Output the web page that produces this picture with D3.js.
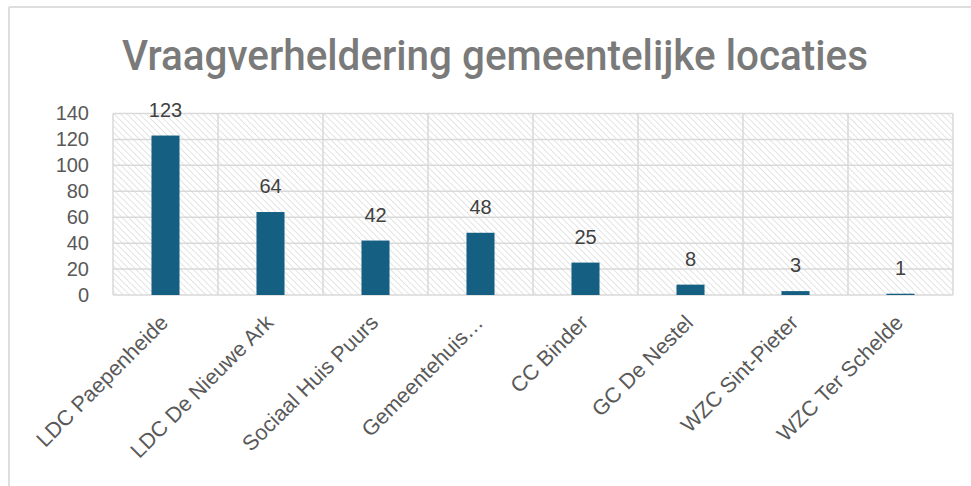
<!DOCTYPE html>
<html>
<head>
<meta charset="utf-8">
<script src="https://cdn.jsdelivr.net/npm/d3@7"></script>
<style>
  body { margin: 0; background: #fff; }
  text { font-family: "Liberation Sans", Arial, sans-serif; }
</style>
</head>
<body>
<svg id="chart" width="971" height="486"></svg>
<script>
// data
var categories = ["LDC Paepenheide", "LDC De Nieuwe Ark", "Sociaal Huis Puurs", "Gemeentehuis\u2026",
    "CC Binder", "GC De Nestel", "WZC Sint-Pieter", "WZC Ter Schelde"];
var values = [123, 64, 42, 48, 25, 8, 3, 1];
var yTicks = [0, 20, 40, 60, 80, 100, 120, 140];
var title = "Vraagverheldering gemeentelijke locaties";

var svg = d3.select("#chart"),
    width = +svg.attr("width"),
    height = +svg.attr("height");

var margin = {top: 113.5, right: 18, bottom: 191, left: 113},
    plotW = width - margin.left - margin.right,
    plotH = height - margin.top - margin.bottom;

var gridColor = "#d9d9d9";

// chart frame (only top and left edges visible)
svg.append("line").attr("x1", 9).attr("y1", 7).attr("x2", width).attr("y2", 7)
    .attr("stroke", "#dedede").attr("stroke-width", 2);
svg.append("line").attr("x1", 9).attr("y1", 7).attr("x2", 9).attr("y2", height)
    .attr("stroke", "#dedede").attr("stroke-width", 2);

// hatch fill
var defs = svg.append("defs");
defs.append("pattern")
    .attr("id", "hatch")
    .attr("patternUnits", "userSpaceOnUse")
    .attr("width", 4.5).attr("height", 4.5)
    .attr("patternTransform", "rotate(-45)")
    .append("line")
    .attr("x1", 0).attr("y1", 0).attr("x2", 0).attr("y2", 4.5)
    .attr("stroke", "#dfdfdf").attr("stroke-width", 1.7);

var titleText = svg.append("text")
    .attr("x", 495)
    .attr("y", 70)
    .attr("text-anchor", "middle")
    .attr("font-size", "43px")
    .attr("font-weight", 500)
    .style("font-family", "Roboto, 'Liberation Sans', sans-serif")
    .attr("fill", "#7a7a7a")
    .text(title);
// squeeze to the condensed width of the original
var tl = titleText.node().getComputedTextLength();
titleText.attr("transform", "translate(495,0) scale(" + (746 / tl) + ",1) translate(-495,0)");

var g = svg.append("g")
    .attr("transform", "translate(" + margin.left + "," + margin.top + ")");

var x = d3.scaleBand()
    .domain(categories)
    .range([0, plotW])
    .paddingInner(0.733)
    .paddingOuter(0.733 / 2);

var y = d3.scaleLinear()
    .domain([0, 140])
    .range([plotH, 0]);

g.append("rect")
    .attr("width", plotW).attr("height", plotH)
    .attr("fill", "url(#hatch)");

// horizontal gridlines
g.append("g")
    .selectAll("line")
    .data(yTicks)
    .enter().append("line")
    .attr("x1", 0).attr("x2", plotW)
    .attr("y1", function(d) { return y(d); })
    .attr("y2", function(d) { return y(d); })
    .attr("stroke", gridColor).attr("stroke-width", 1.5);

// vertical gridlines at category boundaries
var bounds = d3.range(categories.length + 1);
g.append("g")
    .selectAll("line")
    .data(bounds)
    .enter().append("line")
    .attr("x1", function(i) { return i * x.step(); })
    .attr("x2", function(i) { return i * x.step(); })
    .attr("y1", 0).attr("y2", plotH)
    .attr("stroke", gridColor).attr("stroke-width", 1.5);

// y axis labels
var yAxis = g.append("g")
    .attr("transform", "translate(-24,0)")
    .call(d3.axisLeft(y).tickValues(yTicks).tickSize(0).tickPadding(0));
yAxis.select(".domain").remove();
yAxis.selectAll("text")
    .attr("font-size", "20px")
    .style("font-family", "'Liberation Sans', Arial, sans-serif")
    .attr("fill", "#595959");

// bars
g.selectAll(".bar")
    .data(values)
    .enter().append("rect")
    .attr("class", "bar")
    .attr("x", function(d, i) { return x(categories[i]); })
    .attr("width", x.bandwidth())
    .attr("y", function(d) { return y(d); })
    .attr("height", function(d) { return plotH - y(d); })
    .attr("fill", "#156082");

// value labels
g.selectAll(".val")
    .data(values)
    .enter().append("text")
    .attr("class", "val")
    .attr("x", function(d, i) { return x(categories[i]) + x.bandwidth() / 2; })
    .attr("y", function(d) { return y(d) - 19; })
    .attr("text-anchor", "middle")
    .attr("font-size", "20px")
    .attr("fill", "#404040")
    .text(function(d) { return d; });

// category labels, rotated
var xAxis = g.append("g")
    .attr("transform", "translate(0," + plotH + ")")
    .call(d3.axisBottom(x).tickSize(0).tickPadding(0));
xAxis.select(".domain").remove();
xAxis.selectAll("text")
    .attr("font-size", "21.5px")
    .style("font-family", "'Liberation Sans', Arial, sans-serif")
    .attr("fill", "#595959")
    .attr("text-anchor", "end")
    .attr("dy", null)
    .attr("y", 0)
    .attr("transform", "translate(4,29) rotate(-45)");
</script>
</body>
</html>
